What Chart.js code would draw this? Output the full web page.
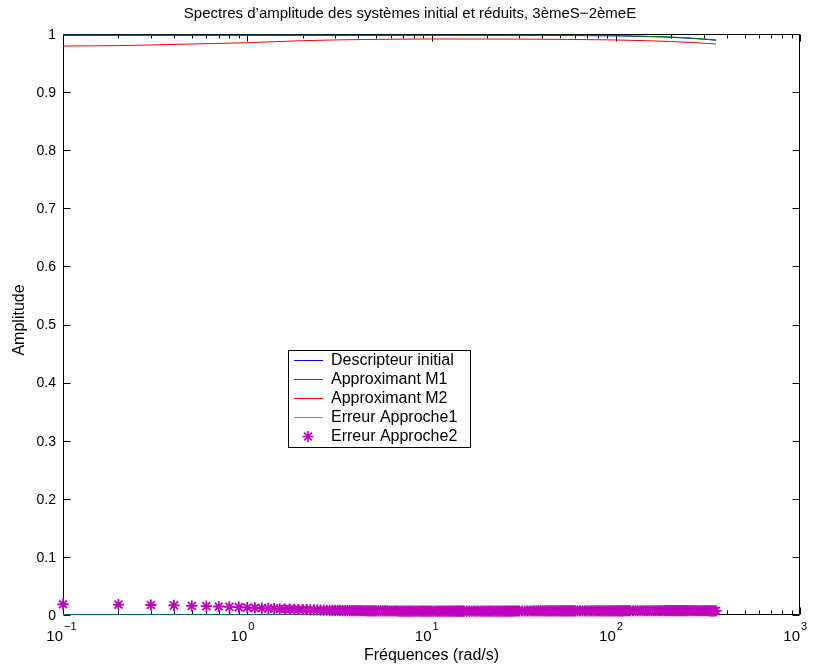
<!DOCTYPE html>
<html>
<head>
<meta charset="utf-8">
<script src="https://cdn.jsdelivr.net/npm/chart.js@4.4.1/dist/chart.umd.min.js"></script>
<style>
  html, body { margin: 0; padding: 0; background: #ffffff; }
  #wrap { width: 818px; height: 668px; }
</style>
</head>
<body>
<div id="wrap"><canvas id="c" width="818" height="668"></canvas></div>
<script>
// Texts
const titleText = 'Spectres d’amplitude des systèmes initial et réduits, 3èmeS−2èmeE';
const xLabel = 'Fréquences (rad/s)';
const yLabel = 'Amplitude';
const seriesNames = ['Descripteur initial', 'Approximant M1', 'Approximant M2', 'Erreur Approche1', 'Erreur Approche2'];

// Axis ticks
const xDecades = [0.1, 1, 10, 100, 1000];
const xExponents = ['−1', '0', '1', '2', '3'];
const xMinorMultiples = [2, 3, 4, 5, 6, 7, 8, 9];
const yTicks = [0, 0.1, 0.2, 0.3, 0.4, 0.5, 0.6, 0.7, 0.8, 0.9, 1];
const yTickLabels = ['0', '0.1', '0.2', '0.3', '0.4', '0.5', '0.6', '0.7', '0.8', '0.9', '1'];

// Amplitude curves (rad/s -> amplitude)
const lineFreq    = [0.1, 0.2, 0.43, 1, 2, 5, 10, 30, 100, 150, 200, 250, 300, 350];
const descripteur = [0.9977, 0.9977, 0.9977, 0.9977, 0.9977, 0.9977, 0.9977, 0.9976, 0.9968, 0.9956, 0.9943, 0.9927, 0.9910, 0.9893];
const approxM1    = [0.9978, 0.9978, 0.9978, 0.9978, 0.9978, 0.9978, 0.9978, 0.9978, 0.9971, 0.9960, 0.9948, 0.9932, 0.9915, 0.9897];
const approxM2    = [0.9793, 0.9800, 0.9823, 0.9850, 0.9885, 0.9908, 0.9914, 0.9912, 0.9897, 0.9884, 0.9870, 0.9855, 0.9842, 0.9828];
const erreur1     = [0.0001, 0.0001, 0.0001, 0.0001, 0.0001, 0.0001, 0.0001, 0.0002, 0.0003, 0.0004, 0.0005, 0.0005, 0.0005, 0.0004];

// Error of the second approach, one marker per frequency
const starFreq = [
  0.1, 0.2, 0.3, 0.4, 0.5, 0.6, 0.7, 0.8, 0.9, 1.0,
  1.1, 1.2, 1.3, 1.4, 1.5, 1.6, 1.7, 1.8, 1.9, 2.0,
  2.1, 2.2, 2.3, 2.4, 2.5, 2.6, 2.7, 2.8, 2.9, 3.0,
  3.1, 3.2, 3.3, 3.4, 3.5, 3.6, 3.7, 3.8, 3.9, 4.0,
  4.1, 4.2, 4.3, 4.4, 4.5, 4.6, 4.7, 4.8, 4.9, 5.0,
  5.15, 5.3, 5.45, 5.6, 5.75, 5.9, 6.05, 6.2, 6.35, 6.5,
  6.65, 6.8, 6.95, 7.1, 7.25, 7.4, 7.55, 7.7, 7.85, 8.0,
  8.2, 8.4, 8.6, 8.8, 9.0, 9.2, 9.4, 9.6, 9.8, 10,
  10.25, 10.5, 10.75, 11, 11.25, 11.5, 11.75, 12, 12.25, 12.5,
  12.75, 13, 13.25, 13.5, 13.75, 14, 14.25, 14.5, 14.75, 15,
  15.5, 16, 16.5, 17, 17.5, 18, 18.5, 19, 19.5, 20,
  20.5, 21, 21.5, 22, 22.5, 23, 23.5, 24, 24.5, 25,
  25.5, 26, 26.5, 27, 27.5, 28, 28.5, 29, 29.5, 30,
  31, 32, 33, 34, 35, 36, 37, 38, 39, 40,
  41, 42, 43, 44, 45, 46, 47, 48, 49, 50,
  51, 52, 53, 54, 55, 56, 57, 58, 59, 60,
  62, 64, 66, 68, 70, 72, 74, 76, 78, 80,
  82, 84, 86, 88, 90, 92, 94, 96, 98, 100,
  102, 104, 106, 108, 110, 112, 114, 116, 118, 120,
  124, 128, 132, 136, 140, 144, 148, 152, 156, 160,
  164, 168, 172, 176, 180, 184, 188, 192, 196, 200,
  204, 208, 212, 216, 220, 224, 228, 232, 236, 240,
  246, 252, 258, 264, 270, 276, 282, 288, 294, 300,
  306, 312, 318, 324, 330, 336, 342, 350
];
const erreur2 = [
  0.0185, 0.0180, 0.0172, 0.0165, 0.0158, 0.0152, 0.0146, 0.0140, 0.0134, 0.0128,
  0.0123, 0.0118, 0.0114, 0.0110, 0.0106, 0.0103, 0.0100, 0.0097, 0.0095, 0.0093,
  0.0091, 0.0089, 0.0087, 0.0086, 0.0084, 0.0083, 0.0082, 0.0081, 0.0080, 0.0079,
  0.0078, 0.0078, 0.0077, 0.0077, 0.0076, 0.0076, 0.0075, 0.0075, 0.0074, 0.0074,
  0.0074, 0.0073, 0.0073, 0.0073, 0.0072, 0.0072, 0.0072, 0.0071, 0.0071, 0.0071,
  0.0071, 0.0070, 0.0070, 0.0070, 0.0070, 0.0069, 0.0069, 0.0069, 0.0069, 0.0069,
  0.0068, 0.0068, 0.0068, 0.0068, 0.0068, 0.0068, 0.0067, 0.0067, 0.0067, 0.0067,
  0.0067, 0.0067, 0.0067, 0.0067, 0.0066, 0.0066, 0.0066, 0.0066, 0.0066, 0.0066,
  0.0066, 0.0066, 0.0066, 0.0066, 0.0066, 0.0066, 0.0066, 0.0066, 0.0066, 0.0066,
  0.0066, 0.0066, 0.0066, 0.0066, 0.0066, 0.0066, 0.0066, 0.0066, 0.0066, 0.0066,
  0.0066, 0.0066, 0.0066, 0.0067, 0.0067, 0.0067, 0.0067, 0.0067, 0.0067, 0.0067,
  0.0067, 0.0067, 0.0067, 0.0068, 0.0068, 0.0068, 0.0068, 0.0068, 0.0068, 0.0068,
  0.0068, 0.0068, 0.0068, 0.0068, 0.0068, 0.0069, 0.0069, 0.0069, 0.0069, 0.0069,
  0.0069, 0.0069, 0.0069, 0.0069, 0.0069, 0.0070, 0.0070, 0.0070, 0.0070, 0.0070,
  0.0070, 0.0070, 0.0070, 0.0070, 0.0070, 0.0071, 0.0071, 0.0071, 0.0071, 0.0071,
  0.0071, 0.0071, 0.0071, 0.0071, 0.0071, 0.0071, 0.0071, 0.0071, 0.0071, 0.0071,
  0.0071, 0.0071, 0.0071, 0.0071, 0.0071, 0.0072, 0.0072, 0.0072, 0.0072, 0.0072,
  0.0072, 0.0072, 0.0072, 0.0072, 0.0072, 0.0072, 0.0072, 0.0072, 0.0072, 0.0072,
  0.0072, 0.0072, 0.0072, 0.0072, 0.0072, 0.0073, 0.0073, 0.0073, 0.0073, 0.0073,
  0.0073, 0.0073, 0.0073, 0.0073, 0.0073, 0.0073, 0.0073, 0.0073, 0.0073, 0.0073,
  0.0073, 0.0073, 0.0073, 0.0073, 0.0073, 0.0074, 0.0074, 0.0074, 0.0074, 0.0074,
  0.0074, 0.0074, 0.0074, 0.0074, 0.0074, 0.0074, 0.0074, 0.0074, 0.0074, 0.0074,
  0.0074, 0.0074, 0.0074, 0.0074, 0.0074, 0.0073, 0.0073, 0.0073, 0.0073, 0.0073,
  0.0073, 0.0073, 0.0073, 0.0072, 0.0072, 0.0072, 0.0072, 0.0072
];

const FONT = '"Liberation Sans", Arial, Helvetica, sans-serif';
const colors = ['#0000ff', '#008000', '#ff0000', '#00bfbf', '#bf00bf'];

const pts = (xs, ys) => xs.map((x, i) => ({ x: x, y: ys[i] }));

function lineSet(label, values, color, order) {
  return {
    label: label,
    data: pts(lineFreq, values),
    borderColor: color,
    backgroundColor: color,
    borderWidth: 1,
    pointRadius: 0,
    fill: false,
    cubicInterpolationMode: 'monotone',
    order: order
  };
}

function drawStar(ctx, x, y, r) {
  ctx.beginPath();
  ctx.moveTo(x - r, y); ctx.lineTo(x + r, y);
  ctx.moveTo(x, y - r); ctx.lineTo(x, y + r);
  const d = r * 0.7071;
  ctx.moveTo(x - d, y - d); ctx.lineTo(x + d, y + d);
  ctx.moveTo(x - d, y + d); ctx.lineTo(x + d, y - d);
  ctx.stroke();
}

// Box and inward tick marks (drawn under the curves)
const framePlugin = {
  id: 'frame',
  beforeDatasetsDraw(chart) {
    const ctx = chart.ctx;
    const xs = chart.scales.x, ys = chart.scales.y;
    const L = Math.round(xs.left) + 0.5, R = Math.round(xs.right) - 0.5;
    const T = Math.round(ys.top) + 0.5, B = Math.round(ys.bottom) - 0.5;
    ctx.save();
    ctx.strokeStyle = '#000';
    ctx.lineWidth = 1;
    ctx.beginPath();
    ctx.rect(L, T, R - L, B - T);
    yTicks.forEach(v => {
      const y = Math.round(ys.getPixelForValue(v)) + 0.5;
      ctx.moveTo(L, y); ctx.lineTo(L + 7, y);
      ctx.moveTo(R, y); ctx.lineTo(R - 7, y);
    });
    xDecades.forEach((d, k) => {
      const x = Math.round(xs.getPixelForValue(d)) + 0.5;
      ctx.moveTo(x, B); ctx.lineTo(x, B - 7);
      ctx.moveTo(x, T); ctx.lineTo(x, T + 7);
      if (k < xDecades.length - 1) {
        xMinorMultiples.forEach(m => {
          const xm = Math.round(xs.getPixelForValue(d * m)) + 0.5;
          ctx.moveTo(xm, B); ctx.lineTo(xm, B - 4);
          ctx.moveTo(xm, T); ctx.lineTo(xm, T + 4);
        });
      }
    });
    ctx.stroke();
    ctx.restore();
  }
};

// Title, axis labels, tick labels and legend
const textPlugin = {
  id: 'texts',
  afterDraw(chart) {
    const ctx = chart.ctx;
    const xs = chart.scales.x, ys = chart.scales.y;
    const cx = (xs.left + xs.right) / 2;
    ctx.save();
    ctx.fillStyle = '#000';
    ctx.textAlign = 'center';
    ctx.textBaseline = 'alphabetic';

    ctx.font = '15px ' + FONT;
    ctx.fillText(titleText, 410, 18);

    ctx.font = '16px ' + FONT;
    ctx.fillText(xLabel, cx, 660);

    ctx.save();
    ctx.translate(24, 320);
    ctx.rotate(-Math.PI / 2);
    ctx.fillText(yLabel, 0, 0);
    ctx.restore();

    // y tick labels
    ctx.font = '14px ' + FONT;
    ctx.textAlign = 'right';
    ctx.textBaseline = 'middle';
    yTicks.forEach((v, i) => {
      ctx.fillText(yTickLabels[i], xs.left - 7, ys.getPixelForValue(v) + 1);
    });

    // x tick labels as powers of ten
    xDecades.forEach((d, i) => {
      const x = xs.getPixelForValue(d);
      ctx.font = '15px ' + FONT;
      ctx.textAlign = 'right';
      ctx.textBaseline = 'alphabetic';
      ctx.fillText('10', x, 641);
      ctx.font = '11px ' + FONT;
      ctx.textAlign = 'left';
      ctx.fillText(xExponents[i], x + 1, 630);
    });

    // legend
    const bx = 288, by = 350, bw = 182, bh = 97;
    ctx.fillStyle = '#fff';
    ctx.fillRect(bx, by, bw, bh);
    ctx.strokeStyle = '#000';
    ctx.lineWidth = 1;
    ctx.strokeRect(bx + 0.5, by + 0.5, bw, bh);
    ctx.font = '16px ' + FONT;
    ctx.textAlign = 'left';
    ctx.textBaseline = 'middle';
    chart.data.datasets.forEach((ds, i) => {
      const y = by + 10 + i * 19;
      ctx.strokeStyle = colors[i];
      if (i === 4) {
        ctx.lineWidth = 1.6;
        drawStar(ctx, bx + 20, y + 0.5, 5.5);
      } else {
        ctx.lineWidth = 1;
        ctx.beginPath();
        ctx.moveTo(bx + 6, y + 0.5);
        ctx.lineTo(bx + 35, y + 0.5);
        ctx.stroke();
      }
      ctx.fillStyle = '#000';
      ctx.fillText(ds.label, bx + 43, y + 1);
    });
    ctx.restore();
  }
};

new Chart(document.getElementById('c'), {
  type: 'line',
  data: {
    datasets: [
      lineSet(seriesNames[0], descripteur, colors[0], 5),
      lineSet(seriesNames[1], approxM1, colors[1], 4),
      lineSet(seriesNames[2], approxM2, colors[2], 3),
      lineSet(seriesNames[3], erreur1, colors[3], 2),
      {
        label: seriesNames[4],
        data: pts(starFreq, erreur2),
        showLine: false,
        borderColor: colors[4],
        backgroundColor: colors[4],
        pointStyle: 'star',
        pointRadius: 5.6,
        pointBorderWidth: 1.8,
        clip: false,
        order: 1
      }
    ]
  },
  options: {
    responsive: false,
    animation: false,
    devicePixelRatio: 1,
    layout: { padding: { left: 63, right: 18, top: 34, bottom: 53 } },
    scales: {
      x: { type: 'logarithmic', min: 0.1, max: 1000, display: false },
      y: { type: 'linear', min: 0, max: 1, display: false }
    },
    plugins: {
      legend: { display: false },
      title: { display: false },
      tooltip: { enabled: false }
    }
  },
  plugins: [framePlugin, textPlugin]
});
</script>
</body>
</html>
